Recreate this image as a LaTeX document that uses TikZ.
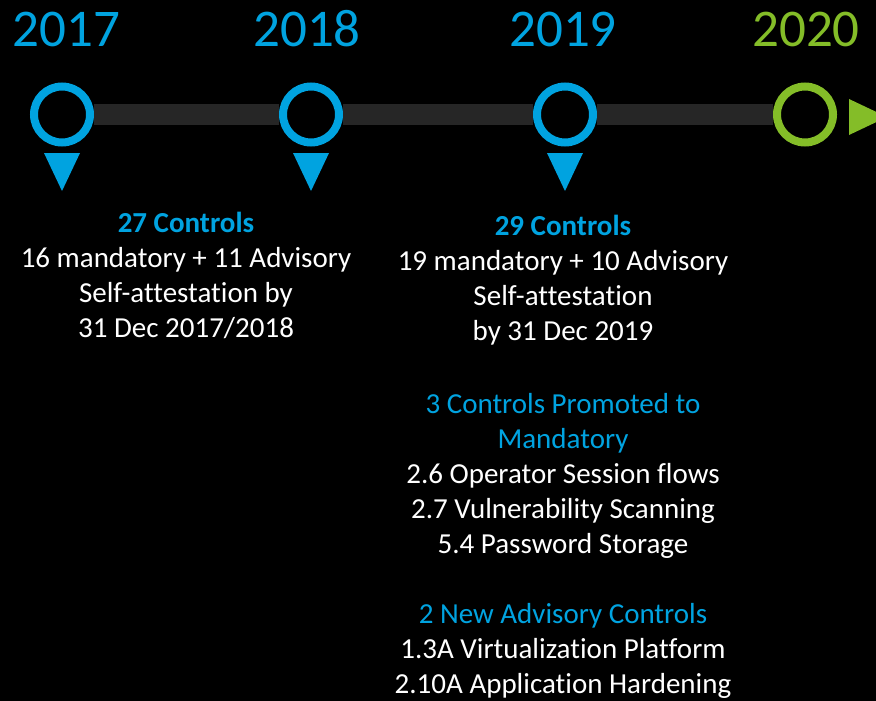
\documentclass[tikz,border=0pt]{standalone}
\usepackage{fontspec}
\setmainfont[Ligatures=NoCommon]{Carlito}
\usepackage{tikz}
\usetikzlibrary{calc}
\definecolor{tlblue}{RGB}{0,163,224}
\definecolor{tlgreen}{RGB}{132,189,40}
\definecolor{tlbar}{RGB}{38,38,38}
\tikzset{
  ring/.style={circle, draw=#1, line width=8pt, minimum size=56pt, inner sep=0pt},
  year/.style={anchor=base, text=#1, font=\fontsize{53}{53}\selectfont},
  info/.style={anchor=base, align=center, text=white, font=\fontsize{29}{35}\selectfont},
  bar/.style={draw=tlbar, line width=21pt}
}

\begin{document}
\begin{tikzpicture}[x=1pt, y=-1pt]
    \fill[black] (0,0) rectangle (876,701);
    \useasboundingbox (0,0) rectangle (876,701);
    % timeline
    \node[ring=tlblue] (c2017) at (62,114.5) {};
    \node[ring=tlblue] (c2018) at (311,114.5) {};
    \node[ring=tlblue] (c2019) at (565,114.5) {};
    \node[ring=tlgreen] (c2020) at (805,114.5) {};
    \draw[bar] (c2017) -- (c2018);
    \draw[bar] (c2018) -- (c2019);
    \draw[bar] (c2019) -- (c2020);
    \foreach \yr in {2017,2018,2019}
      \fill[tlblue] ($(c\yr)+(-18,38.5)$) -- ++(36,0) -- ++(-18,38) -- cycle;
    \fill[tlgreen] ($(c2020)+(44,-15.5)$) -- ++(0,36) -- ++(38,-18) -- cycle;
    % years
    \node[year=tlblue] (y2017) at (66.5,47) {2017};
    \node[year=tlblue] (y2018) at (307,47) {2018};
    \node[year=tlblue] (y2019) at (563,47) {2019};
    \node[year=tlgreen] (y2020) at (806,47) {2020};
    % notes (base = last line)
    \node[info] (n2017) at (186,337) {\textcolor{tlblue}{\bfseries 27 Controls}\\
      16 mandatory + 11 Advisory\\ Self-attestation by\\ 31 Dec 2017/2018};
    \node[info] (n2019) at (563,340) {\textcolor{tlblue}{\bfseries 29 Controls}\\
      19 mandatory + 10 Advisory\\ Self-attestation\\ by 31 Dec 2019};
    \node[info] (p2019) at (563,553) {\textcolor{tlblue}{3 Controls Promoted to}\\
      \textcolor{tlblue}{Mandatory}\\ 2.6 Operator Session flows\\
      2.7 Vulnerability Scanning\\ 5.4 Password Storage};
    \node[info] (a2019) at (563,693) {\textcolor{tlblue}{2 New Advisory Controls}\\
      1.3A Virtualization Platform\\ 2.10A Application Hardening};
\end{tikzpicture}
\end{document}
